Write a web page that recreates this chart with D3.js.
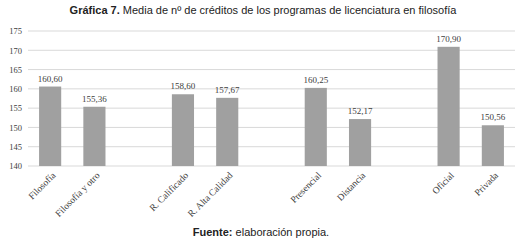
<!DOCTYPE html>
<html>
<head>
<meta charset="utf-8">
<script src="https://cdn.jsdelivr.net/npm/d3@7"></script>
<style>
  body { margin: 0; background: #fff; }
  svg { display: block; }
</style>
</head>
<body>
<svg id="drawing_region"></svg>
<script>
// slots with blanks are the empty gaps between groups
const categories = ["Filosofía", "Filosofía y otro", "", "R. Calificado", "R. Alta Calidad", " ", "Presencial", "Distancia", "  ", "Oficial", "Privada"];
const values = [160.60, 155.36, null, 158.60, 157.67, null, 160.25, 152.17, null, 170.90, 150.56];
const yTicks = [140, 145, 150, 155, 160, 165, 170, 175];

const config = {
    width: 522,
    height: 242,
    margin: { top: 31, right: 7, bottom: 76, left: 28 }
};

const svg = d3.select("#drawing_region")
    .attr("width", config.width)
    .attr("height", config.height);

const inner_width = config.width - config.margin.left - config.margin.right;
const inner_height = config.height - config.margin.top - config.margin.bottom;

const chart = svg.append("g")
    .attr("transform", `translate(${config.margin.left}, ${config.margin.top})`);

const xscale = d3.scaleBand()
    .domain(categories)
    .range([0, inner_width])
    .paddingInner(0.5)
    .paddingOuter(0.25);

const yscale = d3.scaleLinear()
    .domain([140, 175])
    .range([inner_height, 0]);

// gridlines
chart.selectAll(".grid")
    .data(yTicks)
    .enter()
    .append("line")
    .attr("x1", 0)
    .attr("x2", inner_width)
    .attr("y1", d => yscale(d))
    .attr("y2", d => yscale(d))
    .attr("stroke", "#d9d9d9")
    .attr("stroke-width", 1);

// y axis labels
const yaxis = d3.axisLeft(yscale).tickValues(yTicks).tickSize(0).tickPadding(6);
chart.append("g")
    .call(yaxis)
    .call(g => g.select(".domain").remove())
    .selectAll("text")
    .attr("font-family", "Liberation Serif, serif")
    .attr("font-size", 8.5)
    .attr("fill", "#404040");

const data = categories.map((c, i) => ({ c: c, v: values[i] })).filter(d => d.v !== null);

chart.selectAll("rect")
    .data(data)
    .enter()
    .append("rect")
    .attr("x", d => xscale(d.c))
    .attr("width", xscale.bandwidth())
    .attr("y", d => yscale(d.v))
    .attr("height", d => inner_height - yscale(d.v))
    .attr("fill", "#a0a0a0");

chart.selectAll(".val")
    .data(data)
    .enter()
    .append("text")
    .attr("x", d => xscale(d.c) + xscale.bandwidth() / 2)
    .attr("y", d => yscale(d.v) - 5)
    .attr("text-anchor", "middle")
    .attr("font-family", "Liberation Serif, serif")
    .attr("font-size", 9)
    .attr("fill", "#404040")
    .text(d => d.v.toFixed(2).replace(".", ","));

// x labels rotated
chart.selectAll(".xl")
    .data(data)
    .enter()
    .append("text")
    .attr("transform", d => `translate(${xscale(d.c) + xscale.bandwidth() / 2 + 6}, ${inner_height + 10}) rotate(-45)`)
    .attr("text-anchor", "end")
    .attr("font-family", "Liberation Serif, serif")
    .attr("font-size", 9.5)
    .attr("fill", "#404040")
    .text(d => d.c);

// title
const title = svg.append("text")
    .attr("x", 263)
    .attr("y", 14)
    .attr("text-anchor", "middle")
    .attr("font-family", "Liberation Sans Narrow, Liberation Sans, Arial, sans-serif")
    .attr("font-size", 11)
    .attr("fill", "#222");
title.append("tspan").attr("font-weight", "bold").text("Gráfica 7.");
title.append("tspan").text(" Media de nº de créditos de los programas de licenciatura en filosofía");

const source = svg.append("text")
    .attr("x", 261)
    .attr("y", 236)
    .attr("text-anchor", "middle")
    .attr("font-family", "Liberation Sans Narrow, Liberation Sans, Arial, sans-serif")
    .attr("font-size", 11)
    .attr("fill", "#222");
source.append("tspan").attr("font-weight", "bold").text("Fuente:");
source.append("tspan").text(" elaboración propia.");
</script>
</body>
</html>
